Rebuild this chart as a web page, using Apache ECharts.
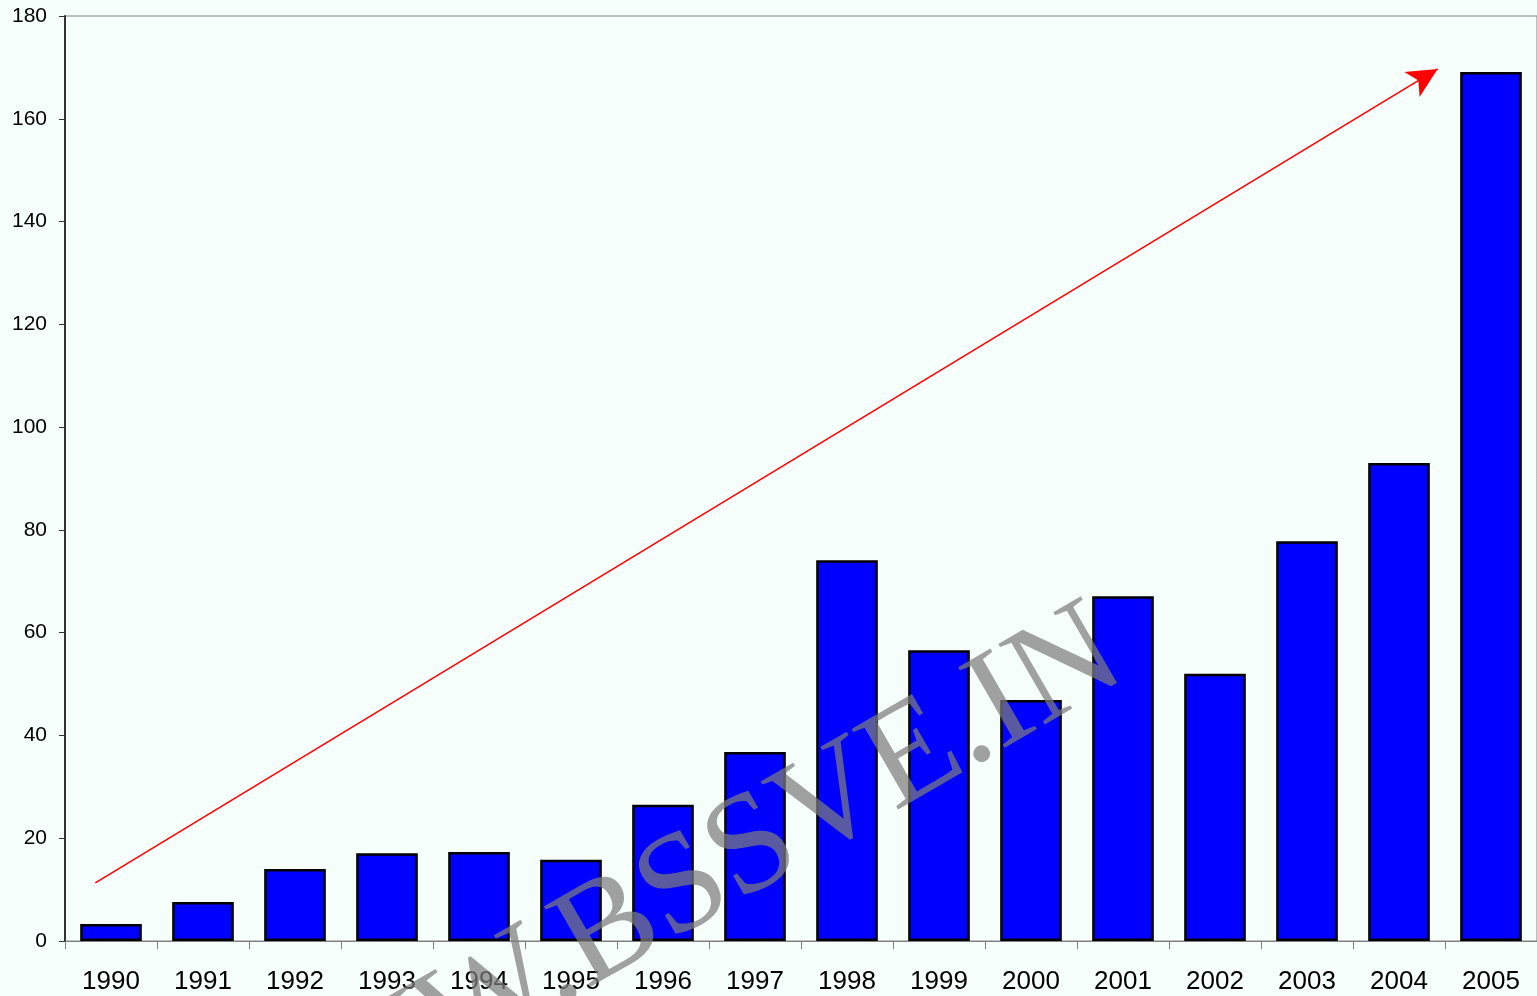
<!DOCTYPE html>
<html>
<head>
<meta charset="utf-8">
<script src="https://cdn.jsdelivr.net/npm/echarts@6/dist/echarts.min.js"></script>
<style>
  html, body { margin: 0; padding: 0; background: #f7fffc; }
  #chart { width: 1537px; height: 996px; }
</style>
</head>
<body>
<div id="chart"></div>
<script>
// years along the x axis
const years = ['1990', '1991', '1992', '1993', '1994', '1995', '1996', '1997',
  '1998', '1999', '2000', '2001', '2002', '2003', '2004', '2005'];
// bar heights
const values = [3.3, 7.6, 14.0, 17.1, 17.3, 15.8, 26.5, 36.8,
  74.1, 56.6, 46.9, 67.1, 52.0, 77.8, 93.0, 169.1];
// trend arrow, in (category index, value) units
const arrowStart = [-0.17, 11.3];
const arrowEnd = [14.42, 169.7];

const chart = echarts.init(document.getElementById('chart'), null, { renderer: 'canvas' });

chart.setOption({
  backgroundColor: '#f7fffc',
  animation: false,
  grid: {
    left: 65, right: 0, top: 16, bottom: 55,
    show: true,
    backgroundColor: '#f7fffc',
    borderColor: '#808080',
    borderWidth: 1
  },
  xAxis: [
    {
      type: 'category',
      data: years,
      axisLine: { lineStyle: { color: '#808080', width: 1 } },
      axisTick: { show: true, length: 8, lineStyle: { color: '#808080' } },
      axisLabel: { color: '#000', fontSize: 26, fontFamily: 'Liberation Sans, Arial, sans-serif', margin: 28 },
      splitLine: { show: false }
    },
    {
      // hidden linear twin of the category axis, used to place the arrow
      type: 'value',
      min: -0.5, max: 15.5,
      show: false,
      position: 'bottom'
    }
  ],
  yAxis: {
    type: 'value',
    min: 0, max: 180, interval: 20,
    axisLine: { show: true, onZero: false, lineStyle: { color: '#333', width: 2 } },
    axisTick: { show: true, inside: false, length: 6, lineStyle: { color: '#333' } },
    axisLabel: { color: '#000', fontSize: 21, fontFamily: 'Liberation Sans, Arial, sans-serif', margin: 18 },
    splitLine: { show: false }
  },
  series: [
    {
      type: 'bar',
      data: values,
      barCategoryGap: '33%',
      itemStyle: { color: '#0000ff', borderColor: '#000', borderWidth: 2.5 }
    },
    {
      type: 'line',
      xAxisIndex: 1,
      data: [],
      silent: true,
      markLine: {
        silent: true,
        symbol: ['none', 'arrow'],
        symbolSize: [22, 30],
        label: { show: false },
        lineStyle: { color: '#ff0000', width: 1.6, type: 'solid' },
        data: [[{ coord: arrowStart }, { coord: arrowEnd }]]
      }
    }
  ],
  graphic: [
    {
      type: 'text',
      x: 656, y: 906,
      rotation: Math.PI * 30 / 180,
      style: {
        text: 'WWW.BSSVE.IN',
        font: '142px "Liberation Serif", "DejaVu Serif", serif',
        fill: 'rgba(125,125,125,0.72)',
        textAlign: 'center',
        textVerticalAlign: 'middle'
      },
      z: 100
    }
  ]
});
</script>
</body>
</html>
